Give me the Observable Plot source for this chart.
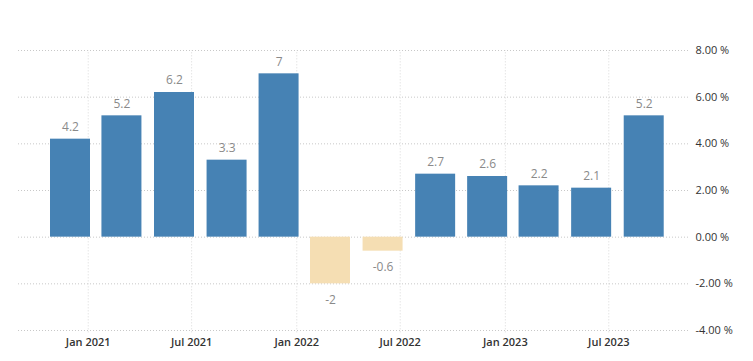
<!DOCTYPE html>
<html>
<head>
<meta charset="utf-8">
<script src="https://cdn.jsdelivr.net/npm/d3@7"></script>
<script src="https://cdn.jsdelivr.net/npm/@observablehq/plot@0.6"></script>
<style>
  html, body { margin: 0; padding: 0; background: #fff; }
  #chart svg { display: block; }
</style>
</head>
<body>
<div id="chart"></div>
<script>
const periods = ["2020-12-01", "2021-03-01", "2021-06-01", "2021-09-01", "2021-12-01", "2022-03-01",
                 "2022-06-01", "2022-09-01", "2022-12-01", "2023-03-01", "2023-06-01", "2023-09-01"];
const values = [4.2, 5.2, 6.2, 3.3, 7, -2, -0.6, 2.7, 2.6, 2.2, 2.1, 5.2];
const xTicks = ["2021-01-01", "2021-07-01", "2022-01-01", "2022-07-01", "2023-01-01", "2023-07-01"];
const yTicks = [-4, -2, 0, 2, 4, 6, 8];

const data = periods.map((p, i) => {
  const d = new Date(p + "T00:00:00Z");
  return {date: d, x1: d3.utcDay.offset(d, -35), x2: d3.utcDay.offset(d, 35), value: values[i]};
});
const tickDates = xTicks.map(t => new Date(t + "T00:00:00Z"));

const chart = Plot.plot({
  width: 753,
  height: 361,
  marginLeft: 18,
  marginRight: 63,
  marginTop: 50,
  marginBottom: 31,
  style: {fontFamily: "'Open Sans', sans-serif", fontSize: "11px", background: "#fff"},
  x: {type: "utc", domain: [new Date("2020-09-01T00:00:00Z"), new Date("2023-11-21T00:00:00Z")]},
  y: {domain: [-4, 8]},
  marks: [
    Plot.gridY(yTicks, {stroke: "#c8c8c8", strokeOpacity: 1, strokeDasharray: "1,2"}),
    Plot.gridX(tickDates, {stroke: "#d8d8d8", strokeOpacity: 1, strokeDasharray: "1,2", y1: -4.1, y2: 8}),
    Plot.rectY(data, {x1: "x1", x2: "x2", y: "value", fill: d => d.value >= 0 ? "#4682b4" : "#f5deb3"}),
    Plot.text(data.filter(d => d.value >= 0), {x: "date", y: "value", text: d => String(d.value), dy: -12, fill: "#8a8a8a", fontSize: 12}),
    Plot.text(data.filter(d => d.value < 0), {x: "date", y: "value", text: d => String(d.value), dy: 16, fill: "#8a8a8a", fontSize: 12}),
    Plot.axisX(tickDates, {tickFormat: d3.utcFormat("%b %Y"), tickSize: 0, tickPadding: 8, fill: "#333", fontSize: 11, fontWeight: 600}),
    Plot.axisY(yTicks, {anchor: "right", tickSize: 0, tickPadding: 5, tickFormat: d => d.toFixed(2) + " %", fill: "#333", fontSize: 11, label: null})
  ]
});
document.getElementById("chart").appendChild(chart);
</script>
</body>
</html>
